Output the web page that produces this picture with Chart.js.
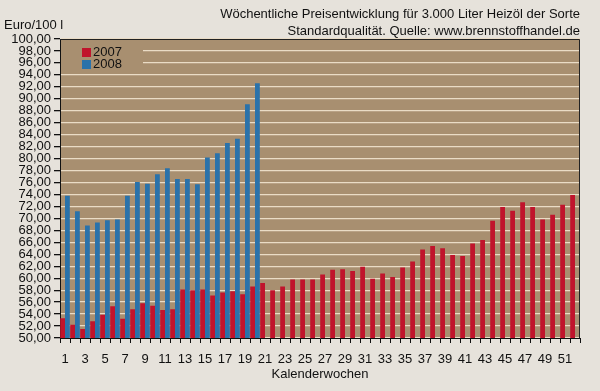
<!DOCTYPE html>
<html>
<head>
<meta charset="utf-8">
<script src="https://cdn.jsdelivr.net/npm/chart.js@4/dist/chart.umd.min.js"></script>
<style>
  html, body { margin: 0; padding: 0; background: #e6e2db; }
  #wrap { width: 600px; height: 391px; }
</style>
</head>
<body>
<div id="wrap"><canvas id="chart-heizoel" width="600" height="391"></canvas></div>
<script>
// weekly prices, Euro per 100 l
var weeks = ['1','2','3','4','5','6','7','8','9','10','11','12','13','14','15','16','17','18','19','20',
  '21','22','23','24','25','26','27','28','29','30','31','32','33','34','35','36','37','38','39','40',
  '41','42','43','44','45','46','47','48','49','50','51','52'];

var price2007 = [53.3, 52.2, 51.5, 52.8, 53.9, 55.3, 53.2, 54.8, 55.8, 55.4,
  54.7, 54.8, 58.1, 58.0, 58.1, 57.1, 57.6, 57.8, 57.3, 58.6,
  59.2, 58.0, 58.6, 59.8, 59.8, 59.8, 60.6, 61.4, 61.5, 61.2,
  61.9, 59.9, 60.8, 60.2, 61.8, 62.8, 64.8, 65.4, 65.0, 63.9,
  63.7, 65.8, 66.4, 69.6, 71.9, 71.3, 72.7, 71.9, 69.8, 70.6,
  72.3, 73.9];

var price2008 = [73.8, 71.2, 68.8, 69.3, 69.7, 69.8, 73.8, 76.1, 75.8, 77.4,
  78.4, 76.6, 76.6, 75.7, 80.2, 80.9, 82.6, 83.3, 89.1, 92.6];

var seriesNames = ['2007', '2008'];
var titleLines = ['Wöchentliche Preisentwicklung für 3.000 Liter Heizöl der Sorte',
  'Standardqualität. Quelle: www.brennstoffhandel.de'];
var unitLabel = 'Euro/100 l';
var xTitle = 'Kalenderwochen';

var plotBg = '#a88f70';
var gridCol = '#eadcc6';
var red = '#c0142c';
var blue = '#2a72aa';
var fontFam = '"Liberation Sans", Arial, sans-serif';

var decor = {
  id: 'decor',
  beforeDraw: function(chart) {
    var a = chart.chartArea, ctx = chart.ctx;
    ctx.save();
    ctx.fillStyle = plotBg;
    ctx.fillRect(a.left, a.top, a.right - a.left, a.bottom - a.top);
    ctx.restore();
  },
  afterDatasetsDraw: function(chart) {
    var a = chart.chartArea, ctx = chart.ctx;
    ctx.save();
    // legend box sits inside the plot
    ctx.fillStyle = plotBg;
    ctx.fillRect(a.left + 1, a.top + 1, 82, 30);
    var ds = chart.data.datasets;
    ctx.font = '13px ' + fontFam;
    ctx.textBaseline = 'middle';
    for (var i = 0; i < ds.length; i++) {
      ctx.fillStyle = ds[i].backgroundColor;
      ctx.fillRect(82, 48 + i * 12, 9, 9);
      ctx.fillStyle = '#111';
      ctx.fillText(ds[i].label, 93, 52 + i * 12);
    }
    // frame top and right
    ctx.strokeStyle = '#222';
    ctx.lineWidth = 1;
    ctx.beginPath();
    ctx.moveTo(a.left, a.top + 0.5);
    ctx.lineTo(a.right - 0.5, a.top + 0.5);
    ctx.lineTo(a.right - 0.5, a.bottom);
    ctx.stroke();
    // titles
    ctx.fillStyle = '#111';
    ctx.textAlign = 'right';
    ctx.fillText(titleLines[0], 580, 14);
    ctx.fillText(titleLines[1], 580, 31);
    ctx.textAlign = 'left';
    ctx.fillText(unitLabel, 4, 25);
    ctx.restore();
  }
};

var chartHeizoel = new Chart(document.getElementById('chart-heizoel'), {
  type: 'bar',
  data: {
    labels: weeks,
    datasets: [
      { label: seriesNames[0], data: price2007, backgroundColor: red },
      { label: seriesNames[1], data: price2008, backgroundColor: blue }
    ]
  },
  options: {
    responsive: false,
    animation: false,
    events: [],
    layout: { padding: { top: 39, right: 20, bottom: 9, left: 0 } },
    datasets: { bar: { categoryPercentage: 0.96, barPercentage: 1.0 } },
    plugins: {
      legend: { display: false },
      tooltip: { enabled: false }
    },
    scales: {
      x: {
        afterFit: function(s) { s.height = 44; },
        grid: { drawOnChartArea: false, drawTicks: true, tickLength: 5, tickColor: '#111' },
        border: { color: '#111', width: 1 },
        ticks: {
          autoSkip: false, maxRotation: 0, minRotation: 0, padding: 9,
          color: '#111', font: { family: fontFam, size: 13 },
          callback: function(v, i) { return i % 2 === 0 ? weeks[i] : ''; }
        },
        title: {
          display: true, text: xTitle, color: '#111',
          font: { family: fontFam, size: 13 }, padding: { top: 0, bottom: 0 }
        }
      },
      y: {
        min: 50, max: 100,
        afterFit: function(s) { s.width = 60; },
        grid: { color: gridCol, lineWidth: 1.3, tickColor: '#111', tickLength: 6 },
        border: { color: '#111', width: 1 },
        ticks: {
          stepSize: 2, autoSkip: false, padding: 3, color: '#111',
          font: { family: fontFam, size: 13 },
          callback: function(v) { return v.toFixed(2).replace('.', ','); }
        }
      }
    }
  },
  plugins: [decor]
});
</script>
</body>
</html>
